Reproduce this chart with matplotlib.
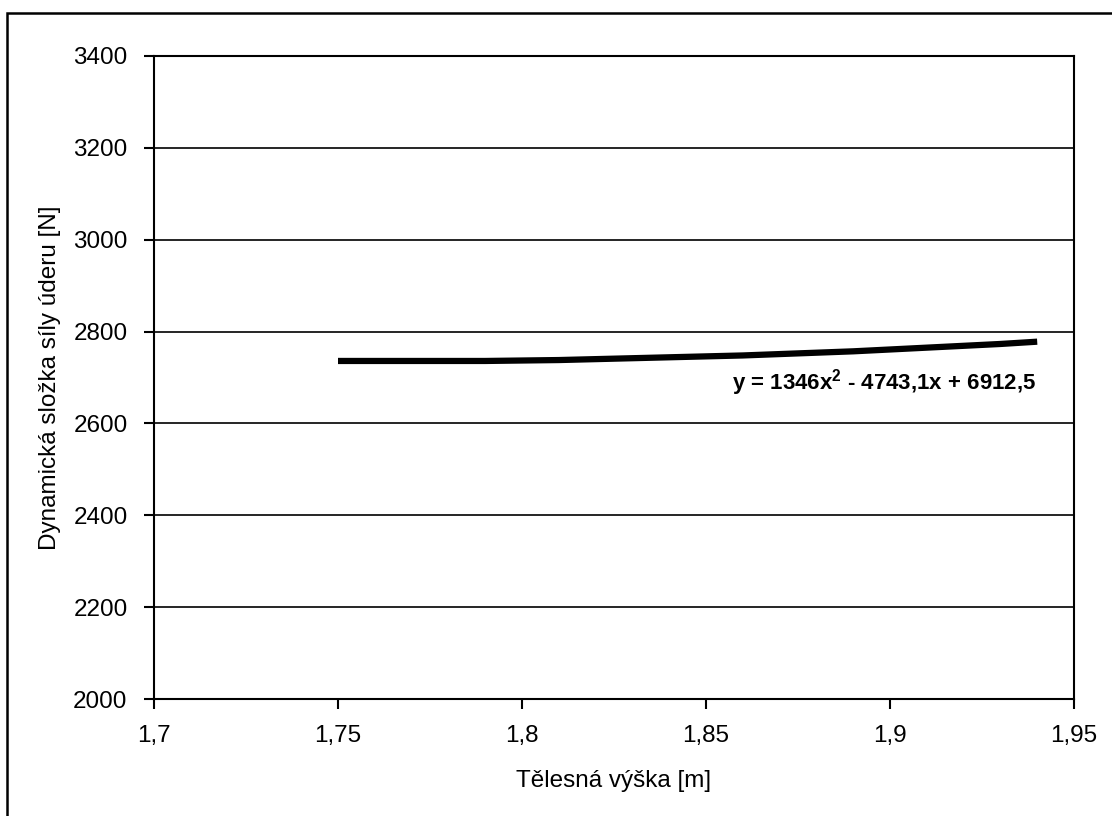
import matplotlib
matplotlib.use("Agg")
import matplotlib.pyplot as plt
from matplotlib.patches import Rectangle
from matplotlib.ticker import FuncFormatter

# data
height_m = [1.75, 1.76, 1.77, 1.78, 1.79, 1.80, 1.81, 1.82, 1.83, 1.84,
            1.85, 1.86, 1.87, 1.88, 1.89, 1.90, 1.91, 1.92, 1.93, 1.94]
force_n = [2736, 2736, 2736, 2736, 2736, 2737, 2738, 2740, 2742, 2744,
           2746, 2748, 2751, 2754, 2757, 2761, 2765, 2769, 2773, 2778]
x_ticks = [1.7, 1.75, 1.8, 1.85, 1.9, 1.95]
y_ticks = [2000, 2200, 2400, 2600, 2800, 3000, 3200, 3400]
equation = r"y = 1346x$\mathbf{^2}$ - 4743,1x + 6912,5"

plt.rcParams['font.family'] = ['Liberation Sans', 'DejaVu Sans']
plt.rcParams['mathtext.fontset'] = 'custom'
plt.rcParams['mathtext.bf'] = 'Liberation Sans:bold'

fig = plt.figure(figsize=(11.12, 8.16), dpi=100)
ax = fig.add_axes([154/1112, 1 - 699/816, 920/1112, 643/816])

# outer chart border (right and bottom edges fall outside the picture)
fig.patches.append(Rectangle((7/1112, -0.05), 1.2, 1 - 13/816 + 0.05,
                             transform=fig.transFigure, fill=False,
                             edgecolor='black', linewidth=1.8))

ax.plot(height_m, force_n, color='black', linewidth=4.5, solid_capstyle='butt')

ax.set_xlim(1.7, 1.95)
ax.set_ylim(2000, 3400)
ax.set_xticks(x_ticks)
ax.set_yticks(y_ticks)
ax.xaxis.set_major_formatter(FuncFormatter(lambda v, p: f"{v:g}".replace('.', ',')))
ax.yaxis.grid(True, color='black', linewidth=1.2)
ax.set_axisbelow(True)

for s in ax.spines.values():
    s.set_linewidth(1.5)
    s.set_color('black')

ax.tick_params(direction='out', length=7, width=1.5, labelsize=17.5, pad=12)

ax.set_xlabel("Tělesná výška [m]", fontsize=17.5, labelpad=16)
ax.set_ylabel("Dynamická složka síly úderu [N]", fontsize=17.5, labelpad=9)

ax.text(1.857, 2688, equation, fontsize=16, fontweight='bold', va='center', ha='left')

fig.savefig("out.png", dpi=100)
